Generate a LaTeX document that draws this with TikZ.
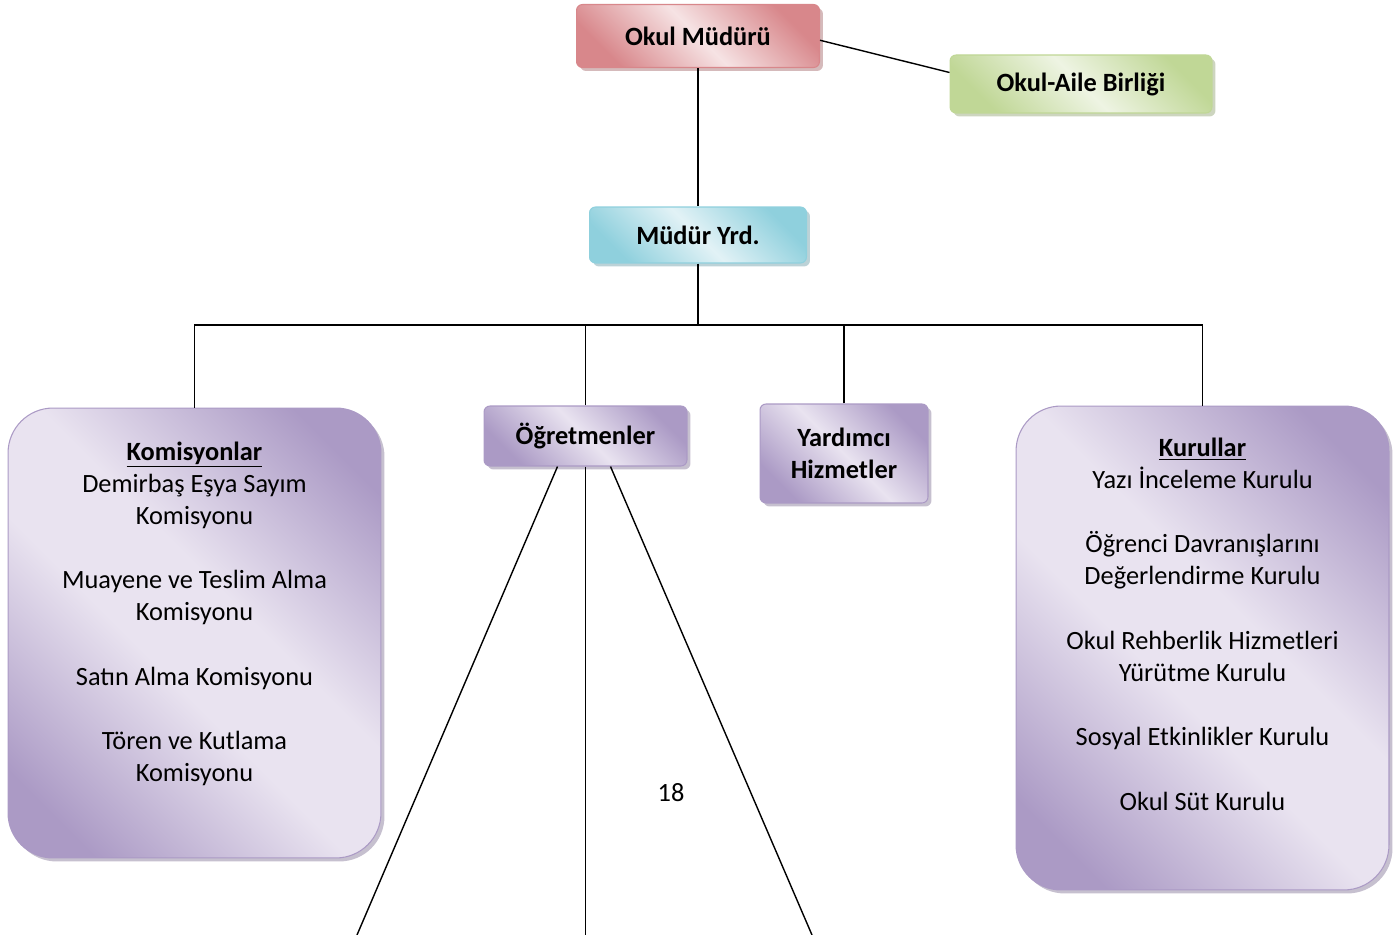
\documentclass[tikz,border=0pt]{standalone}
\usepackage{fontspec}
\setmainfont{Carlito}
\usetikzlibrary{positioning,shadows}

\definecolor{redD}{HTML}{D8878B}
\definecolor{redL}{HTML}{F6E3E4}
\definecolor{grnD}{HTML}{C0D796}
\definecolor{grnL}{HTML}{EEF4E3}
\definecolor{bluD}{HTML}{8FD0DD}
\definecolor{bluL}{HTML}{E2F2F6}
\definecolor{purD}{HTML}{AB9AC5}
\definecolor{purL}{HTML}{E9E3F0}

% buyuk kutular: koseleri koyu, ortasi genis acik
\pgfdeclareverticalshading{purfade}{100bp}{color(0bp)=(purD); color(22bp)=(purD); color(44bp)=(purL); color(56bp)=(purL); color(78bp)=(purD); color(100bp)=(purD)}

\tikzset{
	box/.style={rounded corners=0.12cm,draw=#1D,line width=0.6pt,
		top color=#1D,bottom color=#1D,middle color=#1L,shading angle=-45,
		drop shadow={shadow xshift=0.07cm,shadow yshift=-0.07cm,fill=#1D!75!black,opacity=0.45},
		font=\fontsize{15}{18.2}\selectfont\bfseries,align=center,inner sep=0pt},
	bigbox/.style={box=pur,shading=purfade,shading angle=-45,rounded corners=0.9cm,minimum width=7.46cm},
	listtext/.style={font=\fontsize{15}{18.2}\selectfont,align=center,inner sep=0pt},
}

\begin{document}
\begin{tikzpicture}[x=0.02cm,y=-0.02cm,line width=0.8pt]
	\useasboundingbox (0,0) rectangle (1399,935);
	% ust kademe
	\node[box=red,minimum width=4.86cm,minimum height=1.26cm] (mudur) at (698,36) {Okul Müdürü};
	\node[box=grn,minimum width=5.24cm,minimum height=1.16cm] (veli) at (1081,84) {Okul-Aile Birliği};
	\node[box=blu,minimum width=4.34cm,minimum height=1.12cm] (yrd) at (698,235) {Müdür Yrd.};
	% birimler
	\node[box=pur,minimum width=4.06cm,minimum height=1.2cm] (ogretmen) at (585.5,436) {Öğretmenler};
	\node[box=pur,minimum width=3.36cm,minimum height=1.98cm] (yardimci) at (844,453.5) {Yardımcı\\Hizmetler};
	\node[bigbox,minimum height=9cm] (komisyon) at (194.5,633) {};
	\node[bigbox,minimum height=9.68cm] (kurul) at (1202.5,648) {};
	\node[listtext,below=0.67cm of komisyon.north] (komlist) {\underline{\textbf{Komisyonlar}}\\
		Demirbaş Eşya Sayım\\Komisyonu\\[18.5pt]
		Muayene ve Teslim Alma\\Komisyonu\\[18.5pt]
		Satın Alma Komisyonu\\[18.5pt]
		Tören ve Kutlama\\Komisyonu};
	\node[listtext,below=0.63cm of kurul.north] (kurlist) {\underline{\textbf{Kurullar}}\\
		Yazı İnceleme Kurulu\\[18.5pt]
		Öğrenci Davranışlarını\\Değerlendirme Kurulu\\[18.5pt]
		Okul Rehberlik Hizmetleri\\Yürütme Kurulu\\[18.5pt]
		Sosyal Etkinlikler Kurulu\\[18.5pt]
		Okul Süt Kurulu};
	\node[listtext] (sayfa) at (671,793) {18};
	% baglantilar
	\coordinate (hub) at (698,325);
	\coordinate (alt1) at (357,935);
	\coordinate (alt2) at (585.5,935);
	\coordinate (alt3) at (812,935);
	\draw (mudur.-2) -- (veli.175);
	\draw (mudur.south) -- (yrd.north);
	\draw (yrd.south) -- (hub);
	\draw (komisyon.north) |- (hub) -| (kurul.north);
	\draw (ogretmen.north) -- (ogretmen.north |- hub);
	\draw (yardimci.north) -- (yardimci.north |- hub);
	\draw ([xshift=-0.56cm]ogretmen.south) -- (alt1);
	\draw (ogretmen.south) -- (alt2);
	\draw ([xshift=0.5cm]ogretmen.south) -- (alt3);
\end{tikzpicture}
\end{document}
